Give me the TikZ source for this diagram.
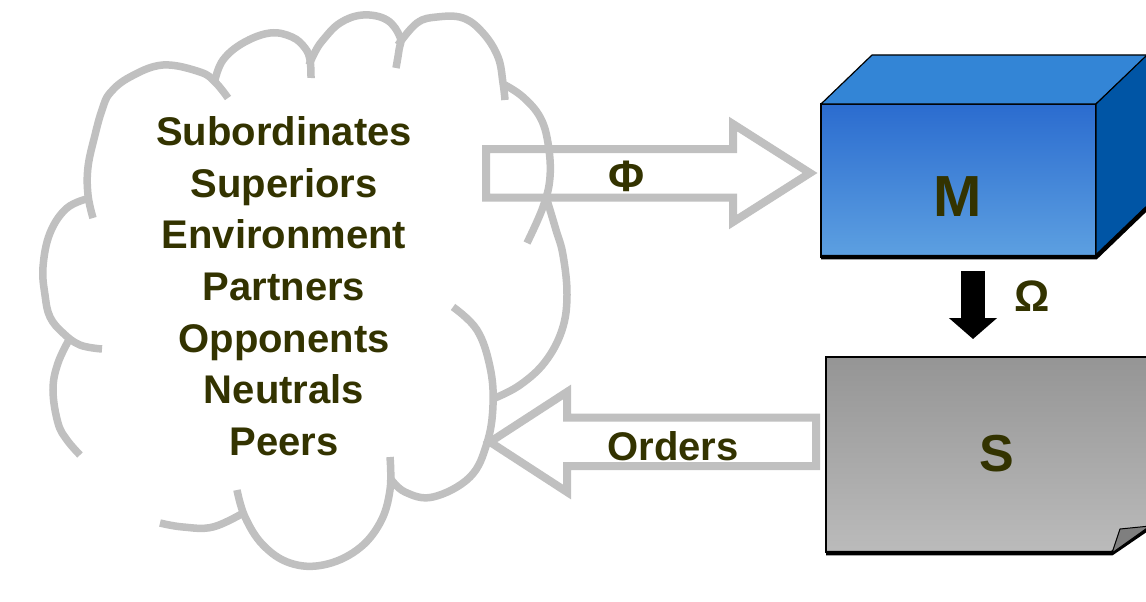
\documentclass[tikz,border=0pt]{standalone}
\usepackage{fontspec}
\setmainfont{Liberation Sans}
\usetikzlibrary{arrows.meta,calc}
\definecolor{cloudgray}{HTML}{C0C0C0}
\definecolor{txt}{HTML}{333300}
\definecolor{mtop}{HTML}{3385D6}
\definecolor{mright}{HTML}{0055A5}
\definecolor{mfronttop}{HTML}{2B6CCF}
\definecolor{mfrontbot}{HTML}{5DA0E1}
\definecolor{sgtop}{HTML}{959595}
\definecolor{sgbot}{HTML}{BBBBBB}
\definecolor{sfold}{HTML}{7F7F7F}
\begin{document}
\begin{tikzpicture}[x=1pt,y=-1pt,
  cloudline/.style={draw=cloudgray,line width=7.5pt},
  hollow/.style={draw=cloudgray,line width=8pt,line join=miter,miter limit=10},
  listtext/.style={text=txt,font=\fontsize{40pt}{40pt}\selectfont\bfseries,inner sep=0pt,anchor=base},
  greek/.style={text=txt,font=\fontsize{44pt}{44pt}\selectfont\bfseries,inner sep=0pt},
  boxlbl/.style={text=txt,inner sep=0pt},
  boxedge/.style={draw=black,line width=1.2pt},
  thickedge/.style={draw=black,line width=4.5pt},
  blk/.style={draw=black,line width=24pt,-{Triangle[length=21pt,width=47pt]}}]
\useasboundingbox[fill=white] (0,0) rectangle (1146,602);

% cloud lobes
\draw[cloudline] plot[smooth,tension=0.65] coordinates {(93,218) (88,195) (88,167) (95,135) (102,110) (110,93) (130,77) (163,65) (200,72) (215,82) (228,98)};
\draw[cloudline] plot[smooth,tension=0.65] coordinates {(215,80) (223,60) (243,43) (270,33) (292,37) (305,48) (310,60) (311,78)};
\draw[cloudline] plot[smooth,tension=0.65] coordinates {(309,65) (315,52) (323,40) (340,23) (363,15) (387,20) (400,37) (399,50) (396,68)};
\draw[cloudline] plot[smooth,tension=0.65] coordinates {(398,45) (417,23) (437,17) (463,18) (483,33) (498,57) (503,83) (505,100)};
\draw[cloudline] plot[smooth,tension=0.65] coordinates {(505,85) (523,97) (540,117) (548,143) (550,177) (543,207) (527,243)};
\draw[cloudline] plot[smooth,tension=0.65] coordinates {(547,200) (556,230) (563,255) (567,295) (562,330) (545,362) (520,385) (495,398)};
\draw[cloudline] plot[smooth,tension=0.65] coordinates {(453,307) (477,330) (490,367) (493,405) (487,443) (470,477) (433,497) (405,492) (390,478)};
\draw[cloudline] plot[smooth,tension=0.65] coordinates {(390,457) (390,490) (380,523) (357,550) (323,565) (290,563) (263,545) (245,517) (237,490)};
\draw[cloudline] plot[smooth,tension=0.65] coordinates {(245,512) (213,527) (183,527) (160,523)};
\draw[cloudline] plot[smooth,tension=0.65] coordinates {(70,338) (58,363) (53,390) (58,423) (67,440) (80,455)};
\draw[cloudline] plot[smooth,tension=0.65] coordinates {(90,198) (67,208) (50,233) (43,267) (45,295) (50,317) (63,333) (80,345) (102,349)};

% cloud text
\node[listtext] (t1) at (284,145) {Subordinates};
\node[listtext] (t2) at (284,197) {Superiors};
\node[listtext] (t3) at (284,248) {Environment};
\node[listtext] (t4) at (284,300) {Partners};
\node[listtext] (t5) at (284,352) {Opponents};
\node[listtext] (t6) at (284,403) {Neutrals};
\node[listtext] (t7) at (284,455) {Peers};

% hollow arrows
\draw[hollow] (486,149) -- (733,149) -- (733,124) -- (810,173) -- (733,222) -- (733,197.5) -- (486,197.5) -- cycle;
\node[greek] (phi) at (627,176.5) {Φ};
\draw[hollow] (816,417.5) -- (567,417.5) -- (567,392) -- (490,442) -- (567,492) -- (567,466) -- (816,466) -- cycle;
\node[listtext] (orders) at (673,460) {Orders};

% M box
\node[boxedge, minimum width=275pt, minimum height=153pt, inner sep=0pt, outer sep=0pt,
      top color=mfronttop, bottom color=mfrontbot, anchor=north west] (Mbox) at (821,104) {};
\filldraw[fill=mtop, boxedge, line join=round] (Mbox.north west) -- ++(51,-49) -- ++(276,0) -- (Mbox.north east) -- cycle;
\filldraw[fill=mright, boxedge, line join=round] (Mbox.north east) -- ++(51,-49) -- ++(0,153) -- (Mbox.south east) -- cycle;
\draw[thickedge] (Mbox.south west) -- (Mbox.south east) -- ++(51,-49);
\node[boxlbl, font=\fontsize{58pt}{58pt}\selectfont\bfseries] (M) at (958,196.5) {M};

% S box
\coordinate (Snw) at (826,357);
\shade[top color=sgtop, bottom color=sgbot] (Snw) -- (1150,357) -- (1150,527) -- (1112,553) -- (826,553) -- cycle;
\draw[boxedge] (1150,357) -- (Snw) -- (826,553);
\draw[thickedge] (826,553) -- (1112,553) -- (1150,527);
\filldraw[fill=sfold, draw=black, line width=1pt] (1112,553) -- (1120,529) -- (1150,526) -- cycle;
\node[boxlbl, font=\fontsize{52pt}{52pt}\selectfont\bfseries] (S) at (997,454) {S};

% black arrow M -> S
\coordinate (ax) at (973,0);
\draw[blk] ($(Mbox.south -| ax)+(0,14)$) -- ($(Snw -| ax)+(0,-18)$);
\node[greek] (omega) at (1032.5,296.5) {Ω};
\end{tikzpicture}
\end{document}
